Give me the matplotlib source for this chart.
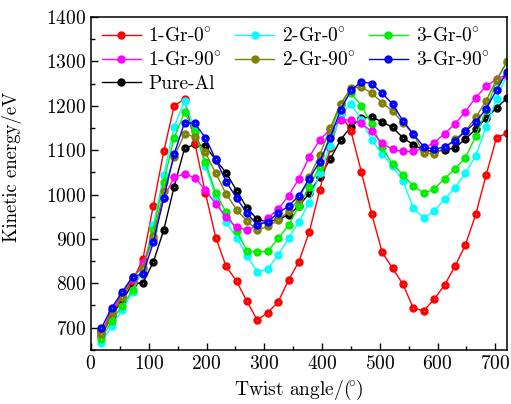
import numpy as np
import matplotlib
matplotlib.use("Agg")
from matplotlib import pyplot as plt
from matplotlib.ticker import MultipleLocator

plt.rcParams['font.family'] = 'serif'
plt.rcParams['font.serif'] = ['cmr10']
plt.rcParams['mathtext.fontset'] = 'cm'
plt.rcParams['axes.formatter.use_mathtext'] = True

# twist angle, every 18 degrees
angles = np.arange(18, 721, 18)

gr1_0 = [682, 725, 770, 805, 855, 975, 1097, 1200, 1215, 1115,
         1004, 903, 838, 805, 759, 717, 734, 758, 807, 849,
         916, 1010, 1104, 1183, 1143, 1051, 956, 870, 834, 798,
         744, 738, 764, 796, 838, 886, 955, 1044, 1128, 1138]
gr2_0 = [665, 704, 740, 780, 835, 931, 1044, 1153, 1211, 1145,
         1064, 995, 937, 903, 862, 826, 832, 864, 901, 939,
         982, 1048, 1110, 1179, 1205, 1168, 1123, 1091, 1064, 1031,
         970, 946, 963, 989, 1015, 1048, 1087, 1153, 1215, 1270]
gr3_0 = [674, 716, 748, 785, 835, 920, 1029, 1128, 1185, 1140,
         1073, 1003, 960, 918, 873, 871, 872, 901, 931, 974,
         1018, 1063, 1138, 1205, 1228, 1200, 1158, 1106, 1069, 1044,
         1020, 1003, 1012, 1036, 1057, 1083, 1131, 1190, 1256, 1300]
gr1_90 = [688, 740, 776, 810, 845, 900, 992, 1039, 1046, 1038,
          1010, 979, 949, 926, 920, 930, 947, 967, 997, 1036,
          1085, 1123, 1147, 1168, 1168, 1160, 1142, 1115, 1102, 1097,
          1097, 1104, 1117, 1137, 1159, 1187, 1218, 1244, 1260, 1270]
gr2_90 = [686, 735, 770, 815, 835, 907, 1007, 1085, 1136, 1130,
          1095, 1048, 1001, 966, 940, 920, 928, 942, 962, 990,
          1039, 1089, 1149, 1205, 1239, 1243, 1228, 1207, 1188, 1162,
          1136, 1094, 1091, 1106, 1124, 1143, 1174, 1211, 1259, 1298]
gr3_90 = [699, 745, 780, 815, 821, 892, 992, 1091, 1162, 1160,
          1128, 1079, 1029, 992, 958, 931, 939, 958, 974, 997,
          1036, 1074, 1128, 1190, 1235, 1254, 1250, 1228, 1204, 1166,
          1136, 1108, 1102, 1107, 1121, 1142, 1163, 1193, 1235, 1277]
pure_al = [692, 729, 759, 800, 801, 848, 920, 1018, 1104, 1113,
           1109, 1078, 1049, 1009, 970, 944, 939, 944, 954, 974,
           1003, 1040, 1079, 1123, 1153, 1173, 1174, 1164, 1151, 1128,
           1112, 1100, 1097, 1100, 1105, 1125, 1147, 1172, 1195, 1217]

labels = ['1-Gr-$0\\!^\\circ$', '2-Gr-$0\\!^\\circ$', '3-Gr-$0\\!^\\circ$',
          '1-Gr-$90\\!^\\circ$', '2-Gr-$90\\!^\\circ$', '3-Gr-$90\\!^\\circ$', 'Pure-Al']
colors = ['#ff0000', '#00ffff', '#00ee00', '#ff00ff', '#808000', '#0000ff', '#000000']
series = [gr1_0, gr2_0, gr3_0, gr1_90, gr2_90, gr3_90, pure_al]

fig = plt.figure(figsize=(5.11, 4.04), dpi=100)
ax = fig.add_axes([0.178, 0.134, 0.814, 0.824])

lines = {}
for order in [6, 0, 1, 2, 3, 4, 5]:
    ln, = ax.plot(angles, series[order], '-o', color=colors[order], lw=1.0,
                  ms=5, mec=colors[order], label=labels[order])
    # tiny highlight so the markers look like the shaded balls
    ax.plot(angles, series[order], 'o', color='white', ms=1.0, mew=0, alpha=0.5)
    lines[order] = ln

ax.set_xlim(0, 720)
ax.set_ylim(650, 1400)
ax.xaxis.set_major_locator(MultipleLocator(100))
ax.xaxis.set_minor_locator(MultipleLocator(50))
ax.yaxis.set_major_locator(MultipleLocator(100))
ax.yaxis.set_minor_locator(MultipleLocator(50))
ax.tick_params(which='both', direction='in', labelsize=14)
ax.tick_params(which='major', length=5, width=1)
ax.tick_params(which='minor', length=3, width=1)
for s in ax.spines.values():
    s.set_linewidth(1.1)

ax.set_xlabel('Twist angle/$(\\!\\!^\\circ\\!)$', fontsize=14)
ax.set_ylabel('Kinetic energy/eV', fontsize=13.5)
ax.xaxis.set_label_coords(0.5, -0.085)
ax.yaxis.set_label_coords(-0.165, 0.55)

# legend is filled by columns, so reorder to get rows 1-Gr, 2-Gr, 3-Gr
leg_order = [0, 3, 6, 1, 4, 2, 5]
ax.legend([lines[i] for i in leg_order], [labels[i] for i in leg_order],
          ncol=3, loc='upper left', frameon=False, fontsize=14,
          handlelength=2.0, handletextpad=0.4, columnspacing=0.7,
          labelspacing=0.28, borderaxespad=0.15)

plt.savefig('out.png', dpi=100)
